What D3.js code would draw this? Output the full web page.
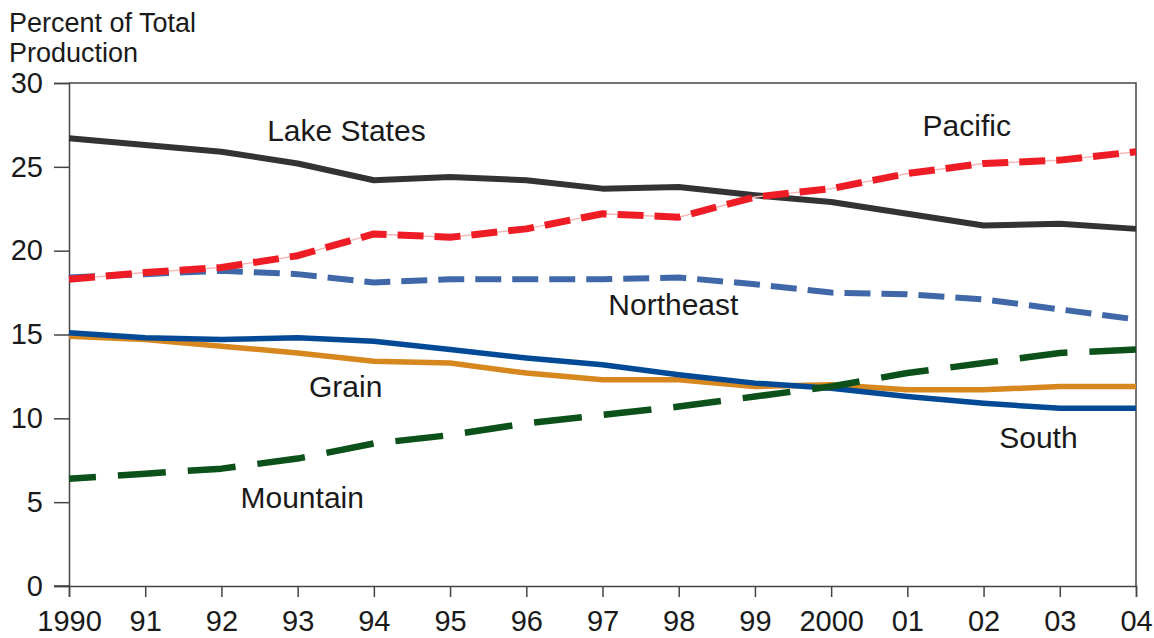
<!DOCTYPE html>
<html>
<head>
<meta charset="utf-8">
<script src="https://cdn.jsdelivr.net/npm/d3@7"></script>
<style>
  body { margin: 0; background: #fff; }
  text { font-family: "Liberation Sans", Arial, sans-serif; fill: #1a1a1a; }
</style>
</head>
<body>
<div id="vis-svg"></div>
<script>
var width = 1154;
var height = 638;

// data
var years = [1990, 1991, 1992, 1993, 1994, 1995, 1996, 1997, 1998, 1999, 2000, 2001, 2002, 2003, 2004];
var yearLabels = ["1990", "91", "92", "93", "94", "95", "96", "97", "98", "99", "2000", "01", "02", "03", "04"];
var yTicks = [0, 5, 10, 15, 20, 25, 30];

var lakeStates = [26.7, 26.3, 25.9, 25.2, 24.2, 24.4, 24.2, 23.7, 23.8, 23.3, 22.9, 22.2, 21.5, 21.6, 21.3];
var pacific    = [18.3, 18.7, 19.0, 19.7, 21.0, 20.8, 21.3, 22.2, 22.0, 23.2, 23.7, 24.6, 25.2, 25.4, 25.9];
var northeast  = [18.4, 18.6, 18.8, 18.6, 18.1, 18.3, 18.3, 18.3, 18.4, 18.0, 17.5, 17.4, 17.1, 16.5, 15.9];
var grain      = [14.9, 14.7, 14.3, 13.9, 13.4, 13.3, 12.7, 12.3, 12.3, 11.9, 12.0, 11.7, 11.7, 11.9, 11.9];
var south      = [15.1, 14.8, 14.7, 14.8, 14.6, 14.1, 13.6, 13.2, 12.6, 12.1, 11.8, 11.3, 10.9, 10.6, 10.6];
var mountain   = [6.4, 6.7, 7.0, 7.6, 8.5, 9.0, 9.7, 10.2, 10.7, 11.3, 11.9, 12.7, 13.3, 13.9, 14.1];

var series = [
  { name: "Lake States", values: lakeStates, color: "#333333", w: 6, dash: null },
  { name: "Northeast", values: northeast, color: "#4068a8", w: 6, dash: "26,11" },
  { name: "Pacific", values: pacific, color: "#ee1c25", w: 7, dash: "26,11", under: "#f6b8b8" },
  { name: "Grain", values: grain, color: "#d6871e", w: 5.5, dash: null },
  { name: "South", values: south, color: "#034a96", w: 5.5, dash: null },
  { name: "Mountain", values: mountain, color: "#0b5119", w: 6.5, dash: "48,22", offset: 21 }
];

// label anchors in data units (text baseline)
var labels = [
  { text: "Lake States", year: 1993.64, value: 26.55 },
  { text: "Pacific", year: 2001.78, value: 26.85 },
  { text: "Northeast", year: 1997.93, value: 16.15 },
  { text: "Grain", year: 1993.63, value: 11.27 },
  { text: "South", year: 2002.72, value: 8.23 },
  { text: "Mountain", year: 1993.06, value: 4.65 }
];

var margin = { top: 83, right: 18, bottom: 52, left: 69 };

var svg = d3.select("#vis-svg")
  .append("svg")
  .attr("width", width)
  .attr("height", height);

var x = d3.scaleLinear()
  .domain([1990, 2004])
  .range([margin.left, width - margin.right]);

var y = d3.scaleLinear()
  .domain([0, 30])
  .range([height - margin.bottom, margin.top]);

// frame (top + right)
svg.append("path")
  .attr("d", "M" + x(1990) + "," + y(30) + "H" + x(2004) + "V" + y(0))
  .attr("fill", "none")
  .attr("stroke", "#444")
  .attr("stroke-width", 1.5);

var yAxis = svg.append("g")
  .attr("transform", "translate(" + margin.left + ",0)")
  .call(d3.axisLeft(y).tickValues(yTicks).tickSize(15).tickPadding(11));

var xAxis = svg.append("g")
  .attr("transform", "translate(0," + y(0) + ")")
  .call(d3.axisBottom(x).tickValues(years)
    .tickFormat(function(d, i) { return yearLabels[i]; })
    .tickSize(11).tickPadding(13));

// extend x axis line left to meet the 0 tick
xAxis.append("line")
  .attr("x1", margin.left - 15).attr("x2", margin.left)
  .attr("stroke", "#444").attr("stroke-width", 1.5);

[yAxis, xAxis].forEach(function(g) {
  g.selectAll(".domain").attr("stroke", "#444").attr("stroke-width", 1.5);
  g.selectAll(".tick line").attr("stroke", "#444").attr("stroke-width", 1.5);
  g.selectAll(".tick text")
    .style("font-family", "'Liberation Sans', Arial, sans-serif")
    .style("font-size", "29px")
    .attr("fill", "#1a1a1a");
});

var line = d3.line()
  .x(function(d, i) { return x(years[i]); })
  .y(function(d) { return y(d); });

var lines = svg.append("g");

series.forEach(function(s) {
  if (s.under) {
    lines.append("path")
      .attr("d", line(s.values))
      .attr("fill", "none")
      .attr("stroke", s.under)
      .attr("stroke-width", 1.5);
  }
  lines.append("path")
    .attr("d", line(s.values))
    .attr("fill", "none")
    .attr("stroke", s.color)
    .attr("stroke-width", s.w)
    .attr("stroke-linejoin", "round")
    .attr("stroke-dasharray", s.dash)
    .attr("stroke-dashoffset", s.offset || 0);
});

svg.append("g")
  .selectAll("text")
  .data(labels)
  .enter()
  .append("text")
  .attr("x", function(d) { return x(d.year); })
  .attr("y", function(d) { return y(d.value); })
  .attr("text-anchor", "middle")
  .style("font-size", "30px")
  .text(function(d) { return d.text; });

svg.append("text")
  .attr("x", 9).attr("y", 32)
  .style("font-size", "27px")
  .text("Percent of Total");

svg.append("text")
  .attr("x", 9).attr("y", 62)
  .style("font-size", "27px")
  .text("Production");
</script>
</body>
</html>
